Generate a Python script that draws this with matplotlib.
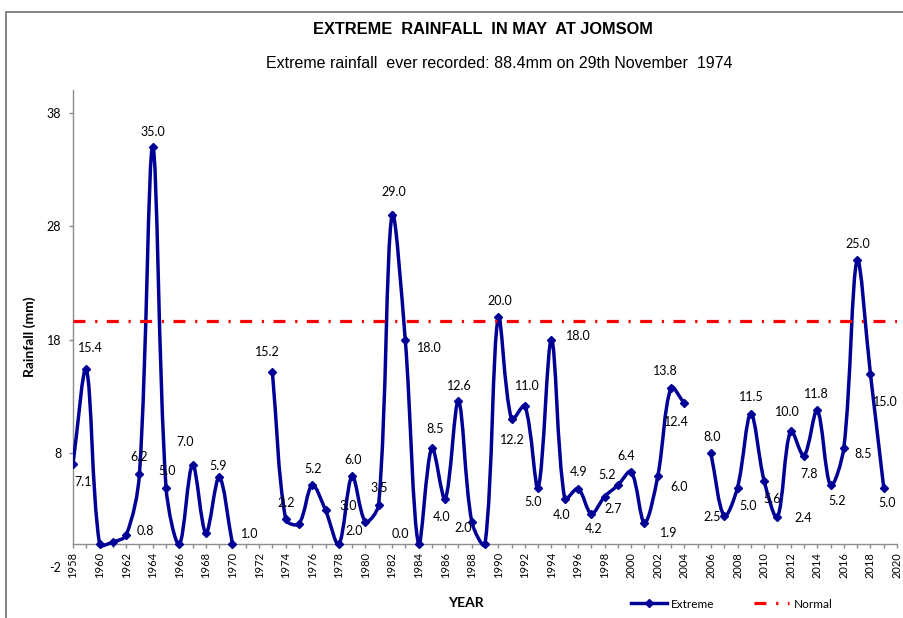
import numpy as np
import matplotlib
matplotlib.use("Agg")
import matplotlib.pyplot as plt
from matplotlib.path import Path
from matplotlib.patches import PathPatch, Rectangle
from matplotlib.lines import Line2D

# ---- data -------------------------------------------------------------
YEARS = list(range(1958, 2020))
EXTREME = [7.1, 15.4, 0.0, 0.2, 0.8, 6.2, 35.0, 5.0, 0.0, 7.0,      # 1958-1967
           1.0, 5.9, 0.0, None, None, 15.2, 2.2, 1.8, 5.2, 3.0,      # 1968-1977
           0.0, 6.0, 2.0, 3.5, 29.0, 18.0, 0.0, 8.5, 4.0, 12.6,      # 1978-1987
           2.0, 0.0, 20.0, 11.0, 12.2, 5.0, 18.0, 4.0, 4.9, 2.7,     # 1988-1997
           4.2, 5.2, 6.4, 1.9, 6.0, 13.8, 12.4, None, 8.0, 2.5,      # 1998-2007
           5.0, 11.5, 5.6, 2.4, 10.0, 7.8, 11.8, 5.2, 8.5, 25.0,     # 2008-2017
           15.0, 5.0]                                                # 2018-2019
NORMAL = 19.7
LABELLED_YEARS = [1958, 1959, 1962, 1963, 1964, 1965, 1967, 1968, 1969,
                  1973, 1974, 1976, 1977, 1979, 1980, 1981, 1982, 1983,
                  1984, 1985, 1986, 1987, 1988, 1990, 1991, 1992, 1993,
                  1994, 1995, 1996, 1997, 1998, 1999, 2000, 2001, 2002,
                  2003, 2004, 2006, 2007, 2008, 2009, 2010, 2011, 2012,
                  2013, 2014, 2015, 2016, 2017, 2018, 2019]
Y_TICKS = [-2, 8, 18, 28, 38]
TITLE = "EXTREME  RAINFALL  IN MAY  AT JOMSOM"
SUBTITLE = "Extreme rainfall  ever recorded: 88.4mm on 29th November  1974"

# ---- layout: where each value label sits (x in years, y in mm) ---------
LABEL_AT = {
    1958: (1958.78, 5.46), 1959: (1959.33, 17.27), 1962: (1963.44, 1.17),
    1963: (1962.99, 7.72), 1964: (1964.04, 36.30), 1965: (1965.05, 6.46),
    1967: (1966.43, 9.04), 1968: (1971.32, 0.88), 1969: (1968.89, 6.90),
    1973: (1972.65, 16.92), 1974: (1974.03, 3.61), 1976: (1976.04, 6.63),
    1977: (1978.71, 3.37), 1979: (1979.05, 7.43), 1980: (1979.17, 1.17),
    1981: (1981.05, 4.93), 1982: (1982.15, 31.01), 1983: (1984.79, 17.27),
    1984: (1982.61, 0.91), 1985: (1985.24, 10.13), 1986: (1985.74, 2.43),
    1987: (1987.07, 13.97), 1988: (1987.37, 1.41), 1990: (1990.08, 21.44),
    1991: (1992.21, 13.95), 1992: (1991.08, 9.19), 1993: (1992.64, 3.75),
    1994: (1996.02, 18.38), 1995: (1994.77, 2.58), 1996: (1996.07, 6.34),
    1997: (1998.66, 3.08), 1998: (1997.20, 1.32), 1999: (1998.20, 6.11),
    2000: (1999.66, 7.81), 2001: (2002.85, 1.02), 2002: (2003.62, 5.02),
    2003: (2002.54, 15.30), 2004: (2003.43, 10.75), 2006: (2006.10, 9.43),
    2007: (2006.10, 2.38), 2008: (2008.81, 3.37), 2009: (2009.07, 12.95),
    2010: (2010.57, 3.99), 2011: (2012.95, 2.34), 2012: (2011.75, 11.63),
    2013: (2013.40, 6.19), 2014: (2013.96, 13.22), 2015: (2015.46, 3.81),
    2016: (2017.46, 7.96), 2017: (2017.07, 26.46), 2018: (2019.10, 12.51),
    2019: (2019.27, 3.61),
}

BLUE = "#000096"
RED = "#FF0000"
GREY = "#8c8c8c"
NUM_FONT = ["Lato", "DejaVu Sans"]
TITLE_FONT = ["Liberation Sans", "DejaVu Sans"]
NORMAL_STYLE = (0, (8.6, 7.0, 1.6, 6.8))

plt.rcParams["lines.scale_dashes"] = False

W, H = 904, 618
fig = plt.figure(figsize=(W / 100, H / 100), dpi=100)
fig.patch.set_facecolor("white")

# outer chart frame (runs off the right and bottom edges)
fig.add_artist(Rectangle((6.5 / W, -0.05), 1.2, (H - 12) / H + 0.05,
                         transform=fig.transFigure, fill=False,
                         ec="#7a7a7a", lw=1.3, clip_on=False))

ax = fig.add_axes([73 / W, (H - 567) / H, (897 - 73) / W, (567 - 90) / H])
ax.set_xlim(1958, 2020)
ax.set_ylim(-2, 40)
ax.set_facecolor("none")

# axes styling
for s in ("top", "right"):
    ax.spines[s].set_visible(False)
ax.spines["bottom"].set_position(("data", 0))
ax.spines["left"].set_bounds(0, 40)
for s in ("bottom", "left"):
    ax.spines[s].set_color(GREY)
    ax.spines[s].set_linewidth(1.0)

ax.set_xticks(range(1958, 2021, 2))
ax.set_xticks(range(1958, 2021, 1), minor=True)
ax.set_xticklabels([str(y) for y in range(1958, 2021, 2)], rotation=90,
                   family=NUM_FONT, fontsize=8)
ax.tick_params(axis="x", which="both", direction="out", length=3.2,
               width=1.0, color=GREY, pad=2.5)
ax.set_yticks(Y_TICKS)
ax.set_yticklabels([str(v) for v in Y_TICKS], family=NUM_FONT, fontsize=9)
ax.tick_params(axis="y", direction="out", length=3.0, width=1.0,
               color=GREY, pad=5.5)
ax.yaxis.get_major_ticks()[0].tick1line.set_visible(False)

# ---- smoothed extreme-rainfall curve ----------------------------------
fig.canvas.draw()
to_disp = ax.transData
to_data = ax.transData.inverted()

runs, cur = [], []
for yr, v in zip(YEARS, EXTREME):
    if v is None:
        if cur:
            runs.append(cur)
        cur = []
    else:
        cur.append((yr, v))
if cur:
    runs.append(cur)

verts, codes = [], []
for run in runs:
    P = to_disp.transform(np.array(run, dtype=float))
    n = len(P)
    verts.append(P[0]); codes.append(Path.MOVETO)
    for i in range(n - 1):
        p0 = P[i - 1] if i > 0 else P[i]
        p1, p2 = P[i], P[i + 1]
        p3 = P[i + 2] if i + 2 < n else P[i + 1]
        d01 = np.hypot(*(p1 - p0)); d12 = np.hypot(*(p2 - p1))
        d23 = np.hypot(*(p3 - p2))
        w1 = d12 / (d01 + d12) if d01 + d12 > 0 else 0.5
        w2 = d12 / (d12 + d23) if d12 + d23 > 0 else 0.5
        c1 = p1 + (p2 - p0) * w1 / 3.0
        c2 = p2 - (p3 - p1) * w2 / 3.0
        verts += [c1, c2, p2]
        codes += [Path.CURVE4] * 3

verts_data = to_data.transform(np.array(verts))
curve = PathPatch(Path(verts_data, codes), fill=False, ec=BLUE, lw=2.5,
                  capstyle="round", joinstyle="round", zorder=3)
ax.add_patch(curve)

xs = [y for y, v in zip(YEARS, EXTREME) if v is not None]
vs = [v for v in EXTREME if v is not None]
ax.plot(xs, vs, ls="none", marker="D", ms=4.2, color=BLUE, zorder=4)

# normal line
ax.axhline(NORMAL, color=RED, lw=2.3, zorder=5, linestyle=NORMAL_STYLE,
           dash_capstyle="butt")

# ---- value labels -----------------------------------------------------
value_of = dict(zip(YEARS, EXTREME))
for yr in LABELLED_YEARS:
    lx, ly = LABEL_AT[yr]
    ax.text(lx, ly, f"{value_of[yr]:.1f}", ha="center", va="center",
            family=NUM_FONT, fontsize=9, color="black", zorder=6)

# ---- titles and axis names -------------------------------------------
fig.text(483 / W, 1 - 30 / H, TITLE, ha="center", va="center",
         family=TITLE_FONT, fontweight="bold", fontsize=11.8)
fig.text(499 / W, 1 - 63 / H, SUBTITLE, ha="center", va="center",
         family=TITLE_FONT, fontsize=11.5)
fig.text(30 / W, 1 - 337 / H, "Rainfall (mm)", rotation=90, ha="center",
         va="center", family=NUM_FONT, fontweight="bold", fontsize=10)
fig.text(466 / W, 1 - 603 / H, "YEAR", ha="center", va="center",
         family=NUM_FONT, fontweight="bold", fontsize=10)

# ---- legend -----------------------------------------------------------
h_ext = Line2D([], [], color=BLUE, lw=2.5, marker="D", ms=4.2)
h_norm = Line2D([], [], color=RED, lw=2.3, linestyle=NORMAL_STYLE,
                dash_capstyle="butt")
fig.legend([h_ext, h_norm], ["Extreme", "Normal"], ncol=2, loc="center",
           bbox_to_anchor=(732 / W, 1 - 604 / H), frameon=False,
           prop={"family": NUM_FONT, "size": 8.5}, handlelength=3.0,
           handletextpad=0.4, columnspacing=3.3)

fig.savefig("out.png", dpi=100, facecolor="white")
